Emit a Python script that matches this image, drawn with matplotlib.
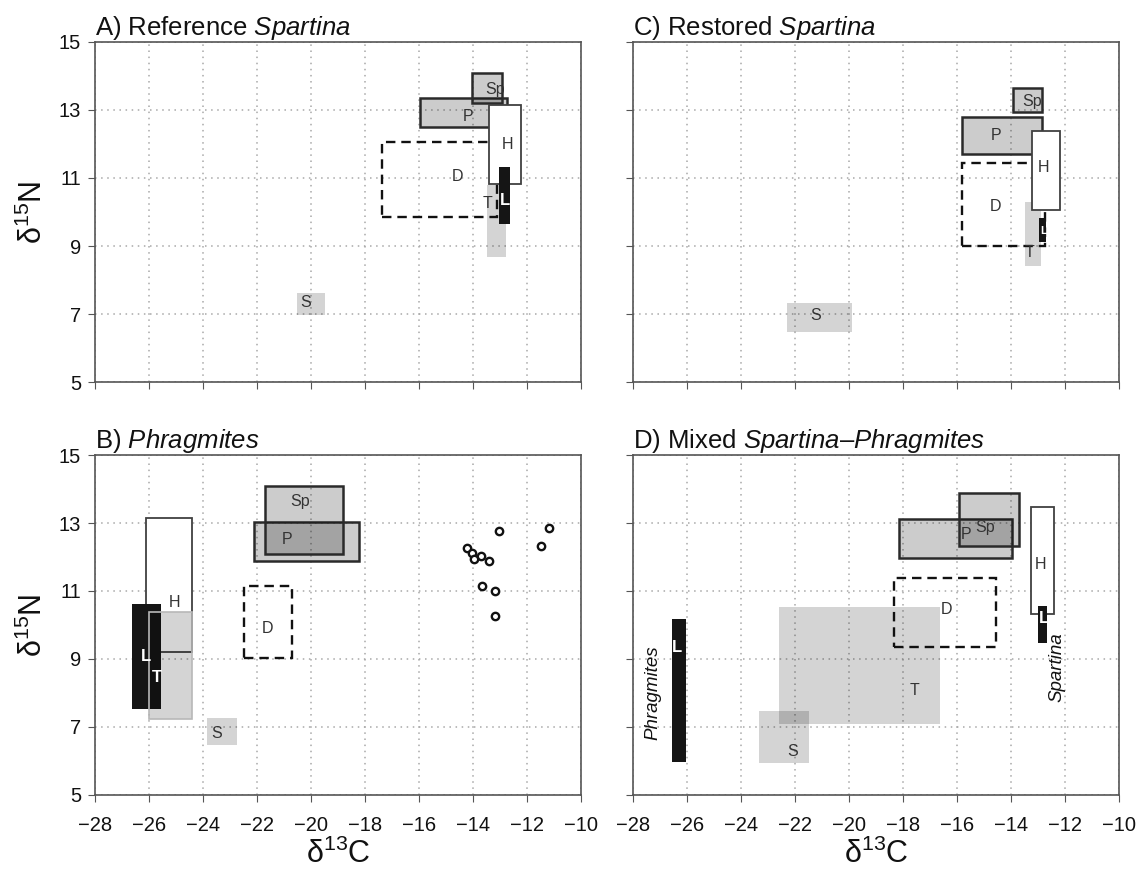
import matplotlib
matplotlib.use("Agg")
import matplotlib.pyplot as plt
from matplotlib.patches import Rectangle

plt.rcParams['font.family'] = 'Liberation Sans'
plt.rcParams['mathtext.fontset'] = 'custom'
plt.rcParams['mathtext.rm'] = 'Liberation Sans'
plt.rcParams['mathtext.it'] = 'Liberation Sans:italic'
plt.rcParams['mathtext.bf'] = 'Liberation Sans:bold'

# boxes: (name, d13C min, d13C max, d15N min, d15N max), in drawing order
boxes_a = [("S", -20.52, -19.48, 6.98, 7.62),
           ("T", -13.47, -12.79, 8.69, 10.79),
           ("D", -17.38, -13.11, 9.86, 12.06),
           ("P", -15.96, -12.75, 12.49, 13.34),
           ("Sp", -14.03, -12.91, 13.21, 14.09),
           ("H", -13.40, -12.22, 10.82, 13.14),
           ("L", -13.03, -12.63, 9.64, 11.31)]
boxes_b = [("S", -23.86, -22.73, 6.47, 7.26),
           ("D", -22.48, -20.69, 9.04, 11.16),
           ("P", -22.10, -18.22, 11.88, 13.02),
           ("Sp", -21.70, -18.80, 12.08, 14.09),
           ("H", -26.12, -24.40, 9.21, 13.14),
           ("L", -26.62, -25.56, 7.52, 10.62),
           ("T", -26.00, -24.40, 7.24, 10.37)]
boxes_c = [("S", -22.30, -19.89, 6.48, 7.33),
           ("T", -13.48, -12.90, 8.43, 10.30),
           ("D", -15.83, -12.74, 9.01, 11.43),
           ("P", -15.83, -12.84, 11.70, 12.80),
           ("Sp", -13.94, -12.84, 12.93, 13.63),
           ("H", -13.21, -12.19, 10.06, 12.38),
           ("L", -12.95, -12.70, 9.13, 9.82)]
boxes_d = [("S", -23.32, -21.49, 5.95, 7.47),
           ("T", -22.58, -16.63, 7.09, 10.52),
           ("D", -18.32, -14.56, 9.36, 11.37),
           ("P", -18.14, -13.95, 11.96, 13.12),
           ("Sp", -15.91, -13.70, 12.32, 13.89),
           ("H", -13.26, -12.40, 10.31, 13.46),
           ("L", -13.01, -12.66, 9.48, 10.57),
           ("L", -26.57, -26.05, 5.96, 10.18)]

# box labels: (text, x, y)
labels_a = [("Sp", -13.2, 13.6), ("P", -14.2, 12.8), ("H", -12.74, 11.97),
            ("D", -14.56, 11.03), ("T", -13.45, 10.26), ("L", -12.81, 10.35),
            ("S", -20.19, 7.35)]
labels_b = [("Sp", -20.41, 13.63), ("P", -20.9, 12.5), ("H", -25.04, 10.66),
            ("D", -21.6, 9.9), ("L", -26.11, 9.07), ("T", -25.72, 8.46),
            ("S", -23.49, 6.80)]
labels_c = [("Sp", -13.22, 13.25), ("P", -14.56, 12.26), ("H", -12.78, 11.32),
            ("D", -14.56, 10.15), ("T", -13.3, 8.80), ("L", -12.8, 9.45),
            ("S", -21.22, 6.97)]
labels_d = [("Sp", -14.94, 12.87), ("P", -15.68, 12.67), ("H", -12.89, 11.79),
            ("D", -16.38, 10.46), ("T", -17.59, 8.08), ("L", -12.78, 10.20),
            ("S", -22.1, 6.27), ("L", -26.38, 9.33)]

# consumer samples in panel B
b_circ_x = [-13.04, -11.19, -14.23, -14.03, -13.72, -13.95, -11.47, -13.42, -13.66, -13.19, -13.19]
b_circ_y = [12.76, 12.86, 12.26, 12.11, 12.04, 11.93, 12.31, 11.88, 11.16, 10.99, 10.27]

titles = [r'A) Reference $\mathit{Spartina}$',
          r'C) Restored $\mathit{Spartina}$',
          r'B) $\mathit{Phragmites}$',
          r'D) Mixed $\mathit{Spartina}$–$\mathit{Phragmites}$']

x_ticks = list(range(-28, -9, 2))
y_ticks = list(range(5, 16, 2))


def box_style(name, t_edge):
    if name in ("S", "T"):
        ec = t_edge if (name == "T" and t_edge) else 'none'
        return dict(facecolor=(0, 0, 0, 0.17), edgecolor=ec, linewidth=1.2)
    if name in ("P", "Sp"):
        return dict(facecolor=(0, 0, 0, 0.2), edgecolor='#2a2a2a', linewidth=1.8)
    if name == "H":
        return dict(facecolor='white', edgecolor='#404040', linewidth=1.3)
    if name == "D":
        return dict(facecolor='none', edgecolor='#111111', linewidth=1.7,
                    linestyle=(0, (4, 2.5)))
    return dict(facecolor='#151515', edgecolor='none')


def draw_panel(ax, boxes, labels, white, t_edge=None):
    for k, (name, x0, x1, y0, y1) in enumerate(boxes):
        ax.add_patch(Rectangle((x0, y0), x1 - x0, y1 - y0, zorder=2 + k * 0.1,
                               **box_style(name, t_edge)))
    for txt, x, y in labels:
        if txt in white:
            ax.text(x, y, txt, color='white', fontsize=12, fontweight='bold',
                    ha='center', va='center', zorder=5)
        else:
            ax.text(x, y, txt, color='#333333', fontsize=11.5,
                    ha='center', va='center', zorder=5)


fig = plt.figure(figsize=(11.37, 8.83), dpi=100)
positions = [[0.0836, 0.567, 0.4274, 0.3857],
             [0.5567, 0.567, 0.4274, 0.3857],
             [0.0836, 0.0997, 0.4274, 0.385],
             [0.5567, 0.0997, 0.4274, 0.385]]
axes = [fig.add_axes(p) for p in positions]

for i, ax in enumerate(axes):
    ax.set_xlim(-28, -10)
    ax.set_ylim(5, 15)
    ax.set_xticks(x_ticks)
    ax.set_yticks(y_ticks)
    ax.grid(True, linestyle=(0, (1, 3)), color='#a8a8a8', linewidth=1.1, zorder=0)
    ax.set_axisbelow(True)
    for s in ax.spines.values():
        s.set_color('#555555')
        s.set_linewidth(1.2)
    ax.tick_params(direction='out', length=5, color='#555555', labelsize=14.5,
                   labelcolor='#111111')
    ax.tick_params(axis='x', pad=10)
    ax.tick_params(axis='y', pad=5)
    ax.set_title(titles[i], loc='left', fontsize=18.5, pad=3, color='#111111')
    if i < 2:
        ax.tick_params(axis='x', labelbottom=False)
    else:
        ax.set_xlabel('δ$^{13}$C', fontsize=22, color='#111111')
        ax.xaxis.set_label_coords(0.5, -0.13)
    if i % 2 == 1:
        ax.tick_params(axis='y', labelleft=False)
    else:
        ax.set_ylabel('δ$^{15}$N', fontsize=22, color='#111111')
        ax.yaxis.set_label_coords(-0.095, 0.5)

draw_panel(axes[0], boxes_a, labels_a, white={"L"})
draw_panel(axes[1], boxes_c, labels_c, white={"L"})
draw_panel(axes[2], boxes_b, labels_b, white={"L", "T"}, t_edge='#b8b8b8')
draw_panel(axes[3], boxes_d, labels_d, white={"L"})
axes[1].texts[5].set_fontsize(8)

axes[2].scatter(b_circ_x, b_circ_y, s=28, facecolors='white', edgecolors='#111111',
                linewidths=1.7, zorder=4)

axes[3].text(-27.25, 8.01, 'Phragmites', rotation=90, style='italic', fontsize=13.5,
             ha='center', va='center', color='#111111', zorder=5)
axes[3].text(-12.31, 8.77, 'Spartina', rotation=90, style='italic', fontsize=13.5,
             ha='center', va='center', color='#111111', zorder=5)

fig.savefig('out.png', dpi=100)
